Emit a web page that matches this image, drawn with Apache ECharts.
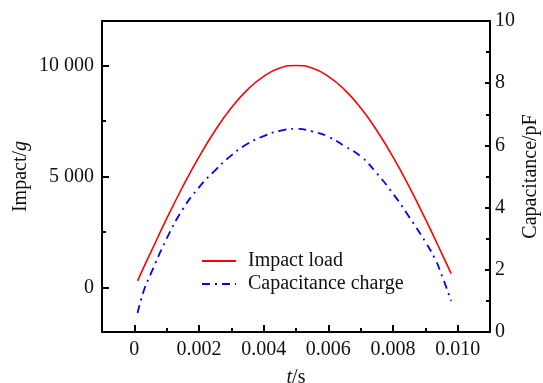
<!DOCTYPE html>
<html><head><meta charset="utf-8">
<script src="https://cdn.jsdelivr.net/npm/echarts@6/dist/echarts.min.js"></script>
<style>html,body{margin:0;padding:0;background:#fff}#c{width:543px;height:383px}</style>
</head><body><div id="c"></div>
<script>
const times = [0.0001,0.0003,0.0005,0.001,0.0015,0.002,0.0025,0.003,0.0035,0.004,0.0045,0.005,0.0055,0.006,0.0065,0.007,0.0075,0.008,0.0085,0.009,0.0093,0.0095,0.0098];
const impactLoad = [300,940,1560,3100,4550,5880,7070,8090,8910,9510,9880,10000,9880,9510,8910,8090,7070,5880,4540,3090,2180,1560,630];
const capacitance = [0.61,1.35,1.85,3.0,3.95,4.65,5.2,5.68,6.05,6.3,6.47,6.53,6.45,6.28,5.98,5.65,5.1,4.45,3.7,2.9,2.35,1.85,1.0];
const xMajorTicks = [0,0.002,0.004,0.006,0.008,0.010];
const xMinorTicks = [-0.001,0.001,0.003,0.005,0.007,0.009,0.011];
const yLeftMajor = [0,5000,10000];
const yLeftMinor = [2500,7500];
const seriesNames = ['Impact load','Capacitance charge'];

const FONT = 'Liberation Serif';
const chart = echarts.init(document.getElementById('c'), null, {renderer:'canvas'});
const gridPos = {left:102, top:21, right:53, bottom:51, containLabel:false, outerBoundsMode:'none'};
const lineBlack = {show:true, onZero:false, lineStyle:{color:'#000', width:2}};
const noLine = {show:false, onZero:false};
const labelStyle = {fontFamily:FONT, fontSize:20, color:'#111'};
const fmtX = v => Math.abs(v) < 1e-12 ? '0' : v.toFixed(3);
const fmtY = v => v === 0 ? '0' : String(v).replace(/(\d)(?=(\d{3})+$)/g, '$1 ');

chart.setOption({
  animation:false,
  grid:[Object.assign({}, gridPos), Object.assign({}, gridPos)],
  legend:{
    data:seriesNames, orient:'vertical', left:196, top:246, itemWidth:34, itemHeight:14, itemGap:3,
    itemStyle:{opacity:0},
    textStyle:{fontFamily:FONT, fontSize:20, color:'#111', padding:[0,0,0,7]}
  },
  xAxis:[
    {type:'value', gridIndex:0, position:'bottom', min:-0.001, max:0.011,
     axisLine:lineBlack, splitLine:{show:false},
     axisTick:{show:true, inside:true, length:7, customValues:xMajorTicks, lineStyle:{color:'#000', width:2}},
     axisLabel:Object.assign({customValues:xMajorTicks, formatter:fmtX, margin:8}, labelStyle),
     name:'{i|t}/s', nameLocation:'middle', nameGap:36, nameMoveOverlap:false,
     nameTextStyle:{fontFamily:FONT, fontSize:20, color:'#111', rich:{i:{fontFamily:FONT, fontSize:20, fontStyle:'italic', color:'#111'}}}},
    {type:'value', gridIndex:0, position:'top', min:-0.001, max:0.011,
     axisLine:lineBlack, axisTick:{show:false}, axisLabel:{show:false}, splitLine:{show:false}},
    {type:'value', gridIndex:1, position:'bottom', min:-0.001, max:0.011,
     axisLine:noLine, splitLine:{show:false}, axisLabel:{show:false},
     axisTick:{show:true, inside:true, length:4, customValues:xMinorTicks, lineStyle:{color:'#000', width:2}}}
  ],
  yAxis:[
    {type:'value', gridIndex:0, position:'left', min:-2000, max:12000,
     axisLine:lineBlack, splitLine:{show:false},
     axisTick:{show:true, inside:true, length:7, customValues:yLeftMajor, lineStyle:{color:'#000', width:2}},
     axisLabel:Object.assign({customValues:yLeftMajor, formatter:fmtY, margin:8}, labelStyle),
     name:'Impact/{i|g}', nameLocation:'middle', nameRotate:90, nameGap:71, nameMoveOverlap:false,
     nameTextStyle:{fontFamily:FONT, fontSize:20, color:'#111', rich:{i:{fontFamily:FONT, fontSize:20, fontStyle:'italic', color:'#111'}}}},
    {type:'value', gridIndex:0, position:'right', min:0, max:10, interval:2,
     axisLine:lineBlack, splitLine:{show:false},
     axisTick:{show:true, inside:true, length:5, lineStyle:{color:'#000', width:2}},
     axisLabel:Object.assign({margin:5}, labelStyle),
     name:'Capacitance/pF', nameLocation:'middle', nameRotate:90, nameGap:31, nameMoveOverlap:false,
     nameTextStyle:{fontFamily:FONT, fontSize:20, color:'#111'}},
    {type:'value', gridIndex:1, position:'left', min:-2000, max:12000,
     axisLine:noLine, splitLine:{show:false}, axisLabel:{show:false},
     axisTick:{show:true, inside:true, length:4, customValues:yLeftMinor, lineStyle:{color:'#000', width:2}}},
    {type:'value', gridIndex:1, position:'right', min:0, max:10, interval:1,
     axisLine:noLine, splitLine:{show:false}, axisLabel:{show:false},
     axisTick:{show:true, inside:true, length:4, lineStyle:{color:'#000', width:2}}}
  ],
  series:[
    {name:seriesNames[0], type:'line', xAxisIndex:0, yAxisIndex:0, smooth:true, symbol:'none',
     data:times.map((t,i)=>[t, impactLoad[i]]),
     lineStyle:{color:'#ff0000', width:1.6}, itemStyle:{color:'#ff0000'}},
    {name:seriesNames[1], type:'line', xAxisIndex:0, yAxisIndex:1, smooth:true, symbol:'none',
     data:times.map((t,i)=>[t, capacitance[i]]),
     lineStyle:{color:'#0000ff', width:1.8, type:[8,5,2,5]}, itemStyle:{color:'#0000ff'}}
  ]
});
</script></body></html>
